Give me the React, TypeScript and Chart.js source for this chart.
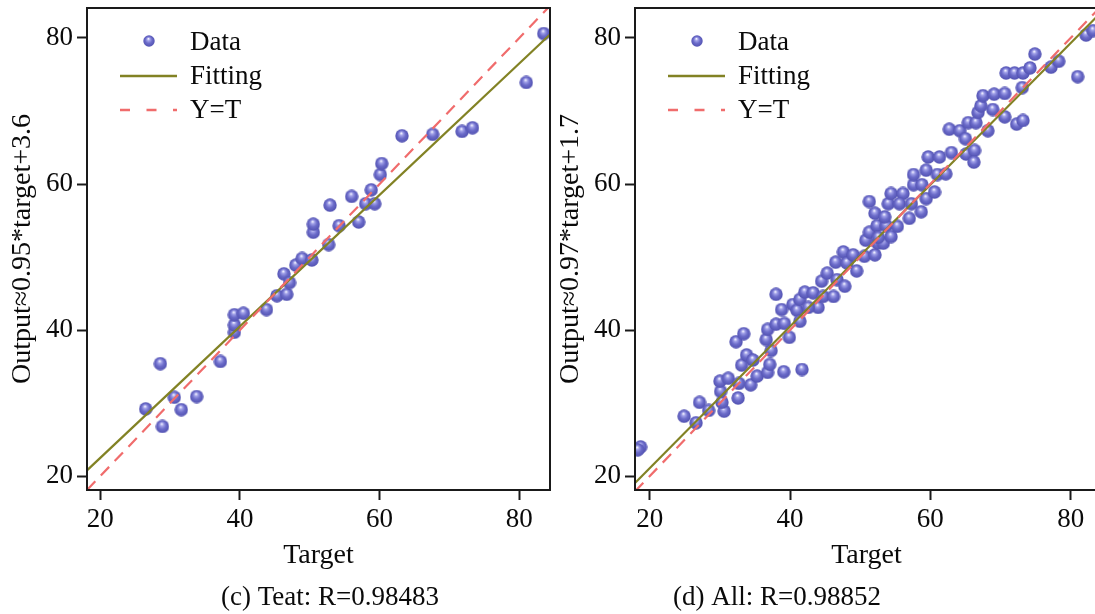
import React, { useEffect, useRef } from "react";
import { Chart, registerables } from "chart.js";

Chart.register(...registerables);

const FONT = '"Liberation Serif", "Times New Roman", serif';

// ---- tick labels ----
const tickValues = [20, 40, 60, 80];

// ---- axis ranges ----
const testXRange = [18.1, 84.4];
const allXRange = [17.9, 83.9];
const yRange = [18.1, 84.1];

// ---- fitted line coefficients (as drawn) ----
const testFit = [0.9, 4.5];
const allFit = [0.97, 1.7];

// ---- (c) test set ----
const testTarget = [
  26.5, 28.6, 28.9, 30.6, 31.6, 33.8, 37.2, 39.2, 39.2, 39.2, 40.5, 43.8, 45.3,
  46.7, 46.3, 47.1, 48.0, 48.9, 50.3, 50.5, 50.5, 52.7, 52.9, 54.2, 56.0, 57.0,
  58.0, 59.3, 58.8, 60.1, 60.3, 63.2, 67.6, 71.8, 73.3, 81.0, 83.5,
];
const testOutput = [
  29.2, 35.4, 26.8, 30.8, 29.1, 30.9, 35.7, 39.7, 40.7, 42.1, 42.3, 42.8, 44.7,
  44.9, 47.7, 46.5, 48.9, 49.8, 49.6, 53.4, 54.5, 51.7, 57.1, 54.3, 58.3, 54.8,
  57.3, 57.3, 59.2, 61.3, 62.8, 66.6, 66.8, 67.2, 67.7, 73.9, 80.6,
];

// ---- (d) all data ----
const allTarget = [
  18.7, 18.3, 24.9, 26.6, 27.1, 28.4, 30.6, 30.3, 30.1, 30.0, 31.2, 32.6, 32.7,
  34.4, 33.1, 33.8, 34.7, 35.3, 36.8, 37.1, 37.3, 36.6, 36.8, 38.0, 39.2, 39.9,
  32.3, 33.4, 39.1,
  41.7, 38.0, 38.8, 40.4, 41.0, 41.4, 41.4, 42.1, 43.3, 44.0, 42.6, 44.7, 46.2,
  44.5, 45.3, 46.7, 47.8, 46.5, 47.6, 48.1, 49.0, 49.5, 50.8, 50.6, 51.3, 52.4,
  52.1, 52.5, 53.7, 53.3, 54.4, 55.3,
  51.3, 52.1, 53.5, 54.0, 54.4, 56.1, 55.6, 57.0, 57.3, 58.7, 59.4, 60.6, 57.6,
  57.6, 58.8, 59.4, 59.7, 61.3, 61.0, 62.2, 63.0, 65.1, 66.3, 66.2, 52.6,
  62.7, 64.2, 65.0, 65.4, 66.5, 66.8, 67.2, 67.5, 69.1, 70.6, 68.2, 68.9, 70.6,
  72.3, 73.2, 73.1, 70.8, 72.0, 73.2, 74.2, 74.9, 77.2, 78.3, 81.0, 82.2, 83.2,
];
const allOutput = [
  24.0, 23.6, 28.2, 27.3, 30.1, 29.0, 28.9, 30.1, 31.6, 33.0, 33.4, 30.7, 32.7,
  32.5, 35.2, 36.6, 35.9, 33.7, 34.2, 35.3, 37.2, 38.7, 40.1, 40.8, 40.9, 39.0,
  38.4, 39.5, 34.3,
  34.6, 44.9, 42.8, 43.5, 42.7, 41.2, 44.2, 45.2, 45.1, 43.1, 43.1, 44.6, 44.6,
  46.7, 47.8, 46.9, 46.0, 49.3, 50.7, 49.2, 50.3, 48.1, 52.3, 50.1, 53.4, 54.3,
  50.3, 51.9, 54.3, 51.9, 52.8, 54.2,
  57.6, 56.0, 55.5, 57.3, 58.7, 58.7, 57.3, 55.3, 57.3, 56.2, 58.0, 58.9, 59.9,
  61.3, 59.9, 61.9, 63.7, 63.7, 61.3, 61.4, 64.3, 64.1, 64.6, 63.0, 52.7,
  67.5, 67.3, 66.2, 68.4, 68.4, 69.8, 70.7, 72.1, 72.3, 72.4, 67.3, 70.2, 69.2,
  68.2, 68.7, 73.2, 75.2, 75.2, 75.2, 75.9, 77.8, 76.0, 76.8, 74.7, 80.4, 81.0,
];

const OLIVE = "#828224";
const RED = "#f06c6c";
const TEXT = "#0a0a0a";
const FRAME = "#1a1a1a";

function makeSphere(d: number) {
  const c = document.createElement("canvas");
  c.width = d;
  c.height = d;
  const g = c.getContext("2d") as CanvasRenderingContext2D;
  const r = d / 2;
  const grad = g.createRadialGradient(r * 0.9, r * 0.62, r * 0.05, r, r, r);
  grad.addColorStop(0, "#f2f2ff");
  grad.addColorStop(0.22, "#a0a0e8");
  grad.addColorStop(0.55, "#6b6bc9");
  grad.addColorStop(1, "#5050b0");
  g.fillStyle = grad;
  g.beginPath();
  g.arc(r, r, r - 0.3, 0, Math.PI * 2);
  g.fill();
  return c;
}

function decorPlugin(caption: string, captionX: number, legendSphere: HTMLCanvasElement) {
  return {
    id: "decor",
    afterDraw(chart: any) {
      const { ctx, chartArea } = chart;
      const { left, top, right, bottom } = chartArea;
      ctx.save();
      // frame
      ctx.strokeStyle = FRAME;
      ctx.lineWidth = 2;
      ctx.setLineDash([]);
      ctx.strokeRect(left, top, right - left, bottom - top);

      // legend
      ctx.font = `27px ${FONT}`;
      ctx.fillStyle = TEXT;
      ctx.textAlign = "left";
      ctx.textBaseline = "middle";
      const s = legendSphere.width;
      ctx.drawImage(legendSphere, left + 62 - s / 2, 41 - s / 2);
      ctx.fillText("Data", left + 103, 43);

      ctx.strokeStyle = OLIVE;
      ctx.lineWidth = 2.4;
      ctx.beginPath();
      ctx.moveTo(left + 33, 76);
      ctx.lineTo(left + 90, 76);
      ctx.stroke();
      ctx.fillText("Fitting", left + 103, 77);

      ctx.strokeStyle = RED;
      ctx.setLineDash([10, 16.5]);
      ctx.beginPath();
      ctx.moveTo(left + 33, 110);
      ctx.lineTo(left + 90, 110);
      ctx.stroke();
      ctx.setLineDash([]);
      ctx.fillText("Y=T", left + 103, 111);

      // caption
      ctx.textAlign = "center";
      ctx.font = `27px ${FONT}`;
      ctx.fillText(caption, captionX, 598);
      ctx.restore();
    },
  };
}

function buildConfig(opts: {
  xs: number[];
  ys: number[];
  xRange: number[];
  fit: number[];
  yTitle: string;
  caption: string;
  captionX: number;
}) {
  const sphere = makeSphere(14);
  const legendSphere = makeSphere(12);
  const points = opts.xs.map((x, i) => ({ x, y: opts.ys[i] }));
  const [x0, x1] = opts.xRange;
  const [a, b] = opts.fit;
  const tickFont = { family: FONT, size: 27 };
  const titleFont = { family: FONT, size: 28 };
  const setTicks = (s: any) => {
    s.ticks = tickValues.map((v) => ({ value: v }));
  };
  return {
    type: "scatter" as const,
    data: {
      datasets: [
        {
          label: "Y=T",
          data: [
            { x: x0, y: x0 },
            { x: x1, y: x1 },
          ],
          showLine: true,
          borderColor: RED,
          borderWidth: 2.2,
          borderDash: [12, 8],
          pointRadius: 0,
          fill: false,
        },
        {
          label: "Fitting",
          data: [
            { x: x0, y: a * x0 + b },
            { x: x1, y: a * x1 + b },
          ],
          showLine: true,
          borderColor: OLIVE,
          borderWidth: 2.2,
          pointRadius: 0,
          fill: false,
        },
        {
          label: "Data",
          data: points,
          pointStyle: sphere,
          pointRadius: 7,
          showLine: false,
        },
      ],
    },
    options: {
      responsive: false,
      animation: false as const,
      layout: { padding: { left: 0, top: 5, right: 10, bottom: 0 } },
      plugins: {
        legend: { display: false },
        tooltip: { enabled: false },
        title: { display: false },
      },
      scales: {
        x: {
          type: "linear" as const,
          min: x0,
          max: x1,
          afterBuildTicks: setTicks,
          afterFit: (s: any) => {
            s.height = 124;
            s.paddingLeft = 0;
            s.paddingRight = 0;
          },
          grid: {
            display: true,
            drawOnChartArea: false,
            drawTicks: true,
            tickLength: 10,
            tickWidth: 2,
            tickColor: FRAME,
          },
          border: { display: true, color: FRAME, width: 2 },
          ticks: { font: tickFont, color: TEXT, padding: 4, maxRotation: 0 },
          title: {
            display: true,
            text: "Target",
            font: titleFont,
            color: TEXT,
            padding: { top: 0, bottom: 42 },
          },
        },
        y: {
          type: "linear" as const,
          min: yRange[0],
          max: yRange[1],
          afterBuildTicks: setTicks,
          afterFit: (s: any) => {
            s.width = 87;
            s.paddingTop = 0;
            s.paddingBottom = 0;
          },
          grid: {
            display: true,
            drawOnChartArea: false,
            drawTicks: true,
            tickLength: 10,
            tickWidth: 2,
            tickColor: FRAME,
          },
          border: { display: true, color: FRAME, width: 2 },
          ticks: { font: tickFont, color: TEXT, padding: 4 },
          title: {
            display: true,
            text: opts.yTitle,
            font: titleFont,
            color: TEXT,
            padding: { top: 6, bottom: 0 },
          },
        },
      },
    },
    plugins: [decorPlugin(opts.caption, opts.captionX, legendSphere)],
  };
}

export default function App() {
  const leftRef = useRef<HTMLCanvasElement>(null);
  const rightRef = useRef<HTMLCanvasElement>(null);

  useEffect(() => {
    const c1 = new Chart(
      leftRef.current as HTMLCanvasElement,
      buildConfig({
        xs: testTarget,
        ys: testOutput,
        xRange: testXRange,
        fit: testFit,
        yTitle: "Output≈0.95*target+3.6",
        caption: "(c) Teat: R=0.98483",
        captionX: 330,
      }) as any
    );
    const c2 = new Chart(
      rightRef.current as HTMLCanvasElement,
      buildConfig({
        xs: allTarget,
        ys: allOutput,
        xRange: allXRange,
        fit: allFit,
        yTitle: "Output≈0.97*target+1.7",
        caption: "(d) All: R=0.98852",
        captionX: 229,
      }) as any
    );
    return () => {
      c1.destroy();
      c2.destroy();
    };
  }, []);

  return (
    <div
      style={{
        position: "fixed",
        left: 0,
        top: 0,
        width: 1095,
        height: 614,
        overflow: "hidden",
        background: "#ffffff",
      }}
    >
      <canvas
        ref={leftRef}
        width={560}
        height={614}
        style={{ position: "absolute", left: 0, top: 0 }}
      />
      <canvas
        ref={rightRef}
        width={560}
        height={614}
        style={{ position: "absolute", left: 548, top: 0 }}
      />
    </div>
  );
}
